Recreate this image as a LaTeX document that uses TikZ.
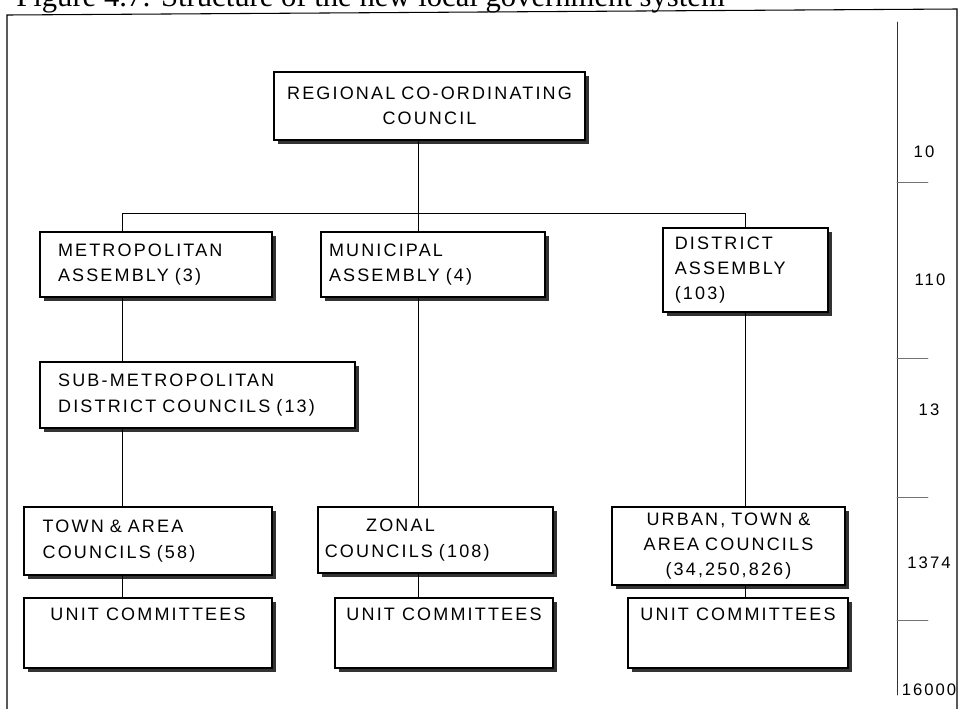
\documentclass[tikz,border=0pt]{standalone}
\usepackage{fontspec}
\setmainfont{Liberation Serif}
\newfontfamily\orgfont[LetterSpace=12]{Liberation Sans}
\usetikzlibrary{shadows}

\tikzset{
  orgbox/.style={draw, line width=0.8pt, fill=white, inner sep=0pt,
    drop shadow={shadow xshift=3pt, shadow yshift=-3pt, fill=black!80, opacity=1},
    font=\orgfont\fontsize{13.5}{19}\selectfont},
  unitbox/.style={orgbox, align=center, text depth=28pt, minimum height=52.5pt},
  link/.style={line width=0.6pt},
  levelnum/.style={font=\orgfont\fontsize{12.5}{14}\selectfont, inner sep=0pt},
}

\begin{document}
\begin{tikzpicture}[x=0.75pt, y=-0.75pt, line cap=round]
	\useasboundingbox (0,0) rectangle (960,708);
	\clip (0,0) rectangle (960,708);
	% caption, cut off by the top of the page
	\node[anchor=base west, inner sep=0pt, font=\fontsize{23}{26}\selectfont] (caption) at (16,6) {Figure 4.7: Structure of the new local government system};
	\draw[line width=0.8pt] (7,730) -- (7,15) -- (957,9) -- (957,730);
	
	% boxes
	\node[orgbox, minimum width=233.25pt, minimum height=51pt, text width=228pt, align=center] (rcc) at (429.5,106) {REGIONAL CO-ORDINATING\\COUNCIL};
	\node[orgbox, minimum width=174pt, minimum height=48.75pt, text width=147pt, align=left] (metro) at (156,264.5) {METROPOLITAN\\ASSEMBLY (3)};
	\node[orgbox, minimum width=168pt, minimum height=48.75pt, text width=156pt, align=left] (muni) at (433,264.5) {MUNICIPAL\\ASSEMBLY (4)};
	\node[orgbox, minimum width=123.75pt, minimum height=63pt, text width=106pt, align=left] (dist) at (745.5,270) {DISTRICT\\ASSEMBLY\\(103)};
	\node[orgbox, minimum width=236.25pt, minimum height=49.5pt, text width=209pt, align=left] (smdc) at (197.5,395) {SUB-METROPOLITAN\\DISTRICT COUNCILS (13)};
	\node[orgbox, minimum width=186pt, minimum height=51pt, text width=158pt, align=left] (town) at (148,541) {TOWN \& AREA\\COUNCILS (58)};
	\node[orgbox, minimum width=176.25pt, minimum height=49.5pt, text width=166pt, align=left] (zonal) at (435.5,540) {\hspace*{31pt}ZONAL\\COUNCILS (108)};
	\node[orgbox, minimum width=174.75pt, minimum height=58.5pt, text width=160pt, align=center] (urban) at (728.5,546) {URBAN, TOWN \&\\AREA COUNCILS\\(34,250,826)};
	\node[unitbox, minimum width=186pt] (unitA) at (148,633) {UNIT COMMITTEES};
	\node[unitbox, minimum width=163.5pt] (unitB) at (444,633) {UNIT COMMITTEES};
	\node[unitbox, minimum width=165pt] (unitC) at (738,633) {UNIT COMMITTEES};
	
	% connectors
	\coordinate (colA) at (122,213);
	\coordinate (colB) at (418,213);
	\coordinate (colC) at (745,213);
	\draw[link] (colA |- metro.north) -- (colA) -- (colC) -- (colC |- dist.north);
	\draw[link] (colB |- rcc.south) -- (colB |- muni.north);
	\draw[link] (colA |- metro.south) -- (colA |- smdc.north);
	\draw[link] (colA |- smdc.south) -- (colA |- town.north);
	\draw[link] (colA |- town.south) -- (colA |- unitA.north);
	\draw[link] (colB |- muni.south) -- (colB |- zonal.north);
	\draw[link] (colB |- zonal.south) -- (colB |- unitB.north);
	\draw[link] (colC |- dist.south) -- (colC |- urban.north);
	\draw[link] (colC |- urban.south) -- (colC |- unitC.north);
	
	% numbers per level
	\draw[line width=0.7pt, black!80] (897,22) -- (897,695);
	\foreach \y in {182,358,497,620}
		\draw[line width=0.7pt, black!55] (897,\y) -- (928,\y);
	\node[levelnum] (nrcc) at (924,152) {10};
	\node[levelnum] (nassembly) at (930,280) {110};
	\node[levelnum] (nsmdc) at (929,410) {13};
	\node[levelnum] (ncouncil) at (929,563) {1374};
	\node[levelnum] (nunit) at (929,690) {16000};
\end{tikzpicture}
\end{document}
